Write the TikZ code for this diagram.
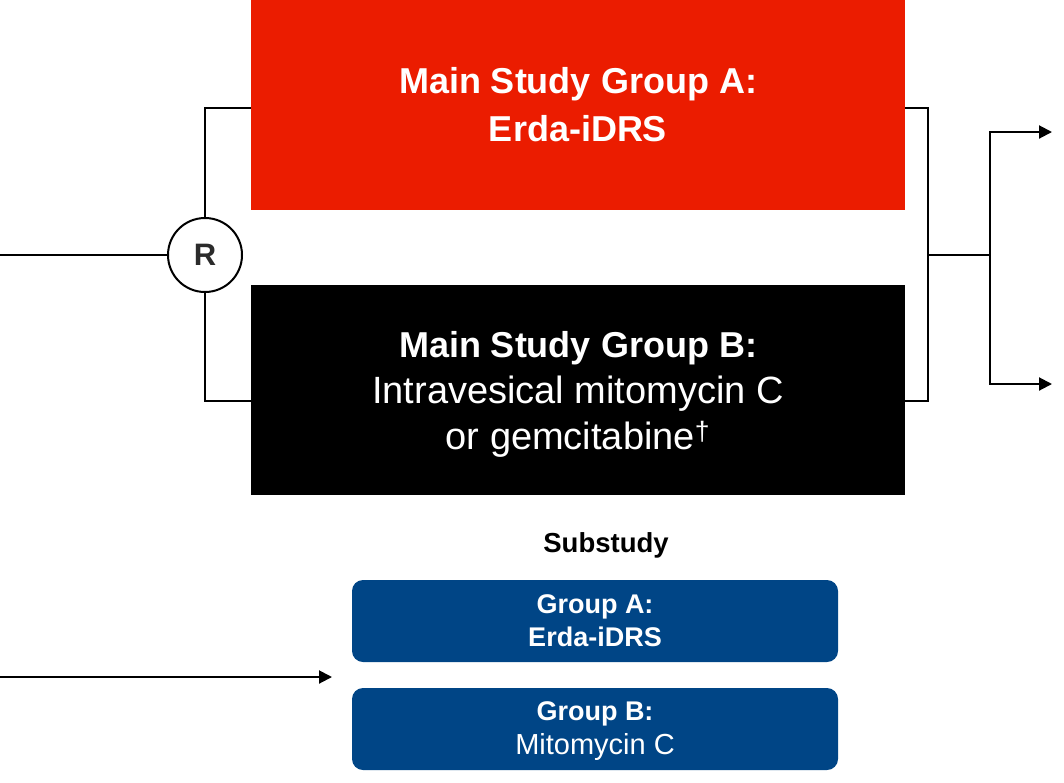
\documentclass[tikz,border=0pt]{standalone}
\usepackage{fontspec}
\setmainfont{Liberation Sans}
\usetikzlibrary{arrows.meta}
\definecolor{mainred}{HTML}{EB1C00}
\definecolor{subblue}{HTML}{004586}
\definecolor{rgray}{HTML}{2B2B2B}
\begin{document}
\begin{tikzpicture}[x=1pt,y=-1pt,
  conn/.style={line width=2pt, line join=miter},
  arr/.style={conn, -{Triangle[length=13pt,width=13pt]}},
  bigbox/.style={draw=none, minimum width=654pt, minimum height=210pt, inner sep=0pt, align=center, text=white},
  subbox/.style={fill=subblue, rounded corners=11pt, minimum width=486pt, minimum height=82pt, inner sep=0pt, align=center, text=white, font=\fontsize{29}{33}\selectfont}
]
\useasboundingbox (0,0) rectangle (1064,782);
% main boxes
\node[bigbox, fill=mainred, font=\fontsize{36}{48}\selectfont\bfseries] (ga) at (578,105) {Main Study Group A:\\Erda-iDRS};
\node[bigbox, fill=black, font=\fontsize{38}{46}\selectfont] (gb) at (578,390) {};
\node[text=white, align=center, font=\fontsize{38}{46}\selectfont, inner sep=0pt] (gbt) at (578,394) {\fontsize{36}{46}\selectfont\textbf{Main Study Group B:}\\Intravesical mitomycin C\\or gemcitabine\textsuperscript{\dag}};
% randomisation
\node[circle, draw, line width=2pt, minimum size=74pt, inner sep=0pt, fill=white, text=rgray, font=\fontsize{31}{34}\selectfont\bfseries] (r) at (205,255) {R};
\coordinate (in) at (0,255);
\draw[conn] (in) -- (r.west);
\draw[conn] (r.north) |- (ga.west |- 0,108);
\draw[conn] (r.south) |- (gb.west |- 0,401);
% right side bracket
\coordinate (ra) at (928,108);
\coordinate (rb) at (928,401);
\coordinate (rm) at (928,255);
\coordinate (sp) at (990,255);
\coordinate (o1) at (1052,132);
\coordinate (o2) at (1052,384);
\draw[conn] (ga.east |- ra) -- (ra) -- (rb) -- (gb.east |- rb);
\draw[conn] (rm) -- (sp);
\draw[arr] (sp) |- (o1);
\draw[arr] (sp) |- (o2);
% substudy
\node[font=\fontsize{27.5}{30}\selectfont\bfseries] (sub) at (606,545) {Substudy};
\node[subbox] (sa) at (595,621) {\fontsize{27}{33}\selectfont\textbf{Group A:}\\\fontsize{27}{33}\selectfont\textbf{Erda-iDRS}};
\node[subbox] (sb) at (595,729) {};
\node[text=white, align=center, font=\fontsize{29}{34}\selectfont, inner sep=0pt] (sbt) at (595,731) {\fontsize{27}{34}\selectfont\textbf{Group B:}\\Mitomycin C};
\coordinate (sin) at (0,677);
\coordinate (send) at (332,677);
\draw[arr] (sin) -- (send);
\end{tikzpicture}
\end{document}
